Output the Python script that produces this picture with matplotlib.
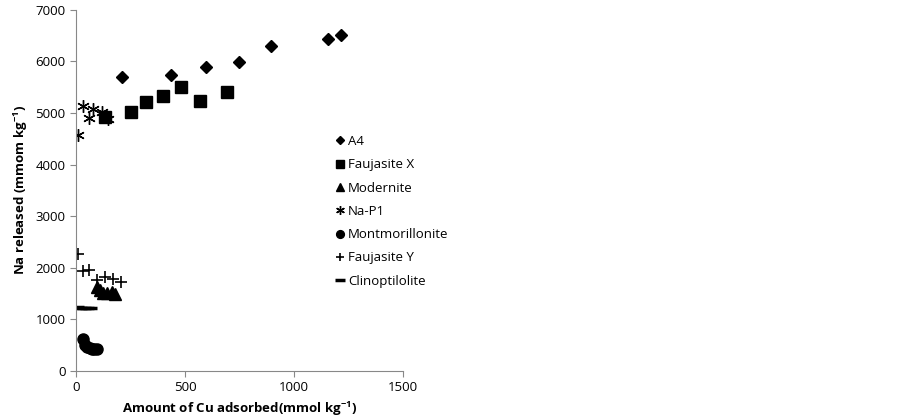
import matplotlib
matplotlib.use("Agg")
import matplotlib.pyplot as plt

# Cu adsorbed (mmol/kg) vs Na released (mmom/kg)
a4_x = [212, 436, 596, 746, 894, 1154, 1214]
a4_y = [5707, 5740, 5882, 5998, 6308, 6438, 6516]

fx_x = [133, 251, 320, 401, 480, 569, 693]
fx_y = [4932, 5016, 5210, 5333, 5513, 5241, 5410]

mod_x = [95, 110, 125, 140, 165, 180]
mod_y = [1620, 1560, 1520, 1510, 1540, 1500]

nap_x = [11, 33, 61, 79, 118, 133, 148]
nap_y = [4576, 5126, 4900, 5073, 5028, 4930, 4880]

mont_x = [34, 41, 50, 64, 72, 84, 95]
mont_y = [614, 504, 460, 440, 425, 420, 430]

fy_x = [11, 31, 61, 98, 135, 168, 208]
fy_y = [2269, 1933, 1958, 1765, 1829, 1778, 1732]

clino_x = [5, 20, 35, 50, 62]
clino_y = [1240, 1230, 1220, 1215, 1225]

plt.rcParams['font.family'] = ['Open Sans', 'DejaVu Sans']

fig = plt.figure(figsize=(9.03, 4.19), dpi=100)
ax = fig.add_axes([0.0842, 0.1146, 0.362, 0.862])

ax.plot(a4_x, a4_y, 'D', color='black', markersize=6, label='A4')
ax.plot(fx_x, fx_y, 's', color='black', markersize=8, label='Faujasite X')
ax.plot(mod_x, mod_y, '^', color='black', markersize=8, label='Modernite')
ax.plot(nap_x, nap_y, marker=(6, 2, 0), linestyle='none', color='black',
        markersize=9, markeredgewidth=1, label='Na-P1')
ax.plot(mont_x, mont_y, 'o', color='black', markersize=8, label='Montmorillonite')
ax.plot(fy_x, fy_y, '+', color='black', markersize=9, markeredgewidth=1.2,
        label='Faujasite Y')
ax.plot(clino_x, clino_y, '_', color='black', markersize=10, markeredgewidth=2.5,
        label='Clinoptilolite')

ax.set_xlim(0, 1500)
ax.set_ylim(0, 7000)
ax.set_xticks([0, 500, 1000, 1500])
ax.set_yticks(range(0, 7001, 1000))

for side in ['top', 'right']:
    ax.spines[side].set_visible(False)
for side in ['left', 'bottom']:
    ax.spines[side].set_color('#888888')
ax.tick_params(colors='#888888', labelcolor='black', labelsize=9.5, length=4)

ax.set_xlabel('Amount of Cu adsorbed(mmol kg$^{\\mathregular{-1}}$)', fontsize=9.5,
              fontweight='bold')
ax.set_ylabel('Na released (mmom kg$^{\\mathregular{-1}}$)', fontsize=9.5,
              fontweight='bold')

leg = ax.legend(loc='upper left', frameon=False, fontsize=9.5, markerscale=0.7,
                handlelength=0.5, handletextpad=0.35, labelspacing=0.78,
                borderaxespad=0, borderpad=0)
leg.set_bbox_to_anchor((337 / 903, 1 - 135 / 419), transform=fig.transFigure)

fig.savefig('out.png', dpi=100)
